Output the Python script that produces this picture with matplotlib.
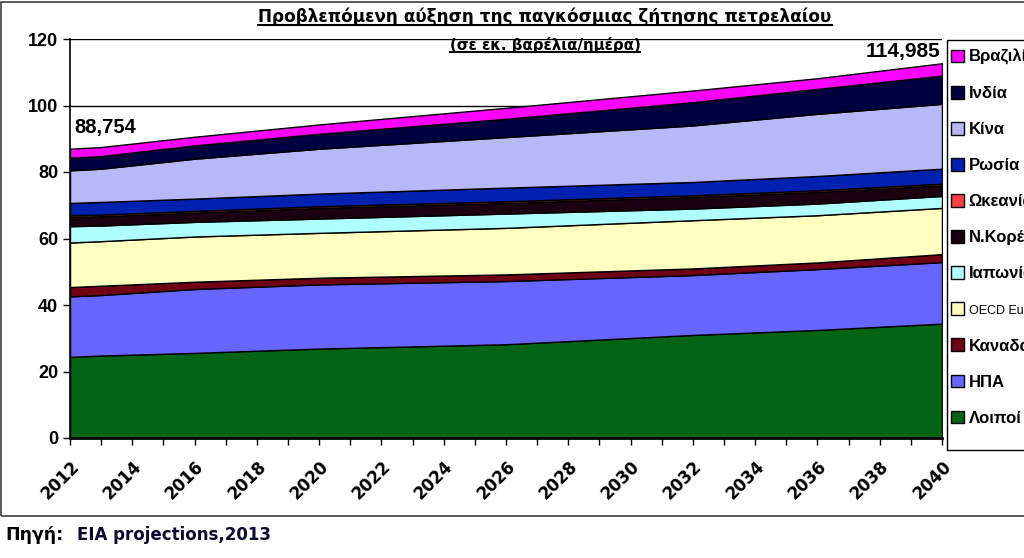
import matplotlib.pyplot as plt
from matplotlib.patches import Rectangle
from matplotlib.lines import Line2D

# years (kinks of the stacked areas)
years = [2012, 2013, 2016, 2020, 2026, 2032, 2036, 2040]

# million barrels/day per region, bottom to top
others  = [24.4, 24.8, 25.6, 26.9, 28.2, 31.0, 32.5, 34.4]
usa     = [18.2, 18.2, 19.2, 19.3, 19.0, 18.0, 18.3, 18.5]
canada  = [2.8, 2.8, 2.2, 2.0, 2.0, 2.0, 2.0, 2.4]
oecd_eu = [13.4, 13.4, 13.6, 13.5, 14.0, 14.5, 14.2, 13.9]
japan   = [4.9, 4.7, 4.4, 4.3, 4.3, 3.5, 3.5, 3.6]
skorea  = [2.8, 2.8, 2.8, 3.2, 3.2, 3.5, 3.5, 3.2]
oceania = [0.5, 0.5, 0.5, 0.5, 0.5, 0.5, 0.5, 0.5]
russia  = [3.7, 3.8, 3.7, 3.8, 4.1, 4.0, 4.3, 4.5]
china   = [9.8, 10.0, 12.0, 13.5, 15.2, 17.0, 18.7, 19.5]
india   = [3.8, 3.8, 4.0, 4.5, 5.5, 7.0, 7.5, 8.5]
brazil  = [2.7, 2.7, 2.6, 2.8, 3.3, 3.5, 3.2, 3.7]

labels = ['Λοιποί', 'ΗΠΑ', 'Καναδάς', 'OECD Europe', 'Ιαπωνία', 'Ν.Κορέα',
          'Ωκεανία', 'Ρωσία', 'Κίνα', 'Ινδία', 'Βραζιλία']
colors = ['#006414', '#6666FF', '#700014', '#FFFFC0', '#B0FFFF', '#1A0010',
          '#FF4040', '#0020B0', '#B8B8F8', '#000040', '#FF00FF']

start_label = '88,754'
end_label = '114,985'

W, H = 1024, 558
fig = plt.figure(figsize=(W / 100, H / 100), dpi=100)

# outer frame of the chart and the footer line
fig.patches.append(Rectangle((1 / W, 1 - 516 / H), 1.2, 516 / H - 2 / H,
                             transform=fig.transFigure, fill=False,
                             edgecolor='#404040', linewidth=1.2))
# legend box (drawn separately so it can be taller than its entries)
fig.patches.append(Rectangle((947 / W, 1 - 450 / H), 0.2, 410 / H,
                             transform=fig.transFigure, fill=False,
                             edgecolor='black', linewidth=1))

ax = fig.add_axes([70 / W, 1 - 438 / H, 872 / W, 399 / H])
series = [others, usa, canada, oecd_eu, japan, skorea, oceania, russia, china, india, brazil]
polys = ax.stackplot(years, *series, colors=colors, edgecolor='black', linewidth=1.0)

ax.set_xlim(2012, 2040)
ax.set_ylim(0, 120)
ax.set_yticks(range(0, 121, 20))
ax.set_yticklabels([str(v) for v in range(0, 121, 20)],
                   fontfamily='Liberation Sans', fontweight='bold', fontsize=13)
ax.yaxis.grid(True, color='black', linewidth=1)
ax.set_axisbelow(True)

ticks = list(range(2012, 2041))
ax.set_xticks(ticks)
ax.set_xticklabels([str(y) if (y - 2012) % 2 == 0 else '' for y in ticks],
                   rotation=45, ha='right', rotation_mode='anchor',
                   fontfamily='DejaVu Sans', fontweight='bold', fontsize=12)
ax.tick_params(axis='both', direction='out', length=5, width=1, colors='black')
ax.tick_params(axis='x', pad=9)
ax.spines['top'].set_visible(False)
ax.spines['right'].set_visible(False)
ax.spines['left'].set_linewidth(1.2)
ax.spines['bottom'].set_linewidth(2)

# total labels
ax.text(2012.15, 93.5, start_label, fontfamily='Liberation Sans', fontweight='bold',
        fontsize=14.5, ha='left', va='center')
ax.text(2039.95, 116.3, end_label, fontfamily='Liberation Sans', fontweight='bold',
        fontsize=15, ha='right', va='center')

# title and subtitle (underlined)
t1 = fig.text(545 / W, 1 - 17 / H, 'Προβλεπόμενη αύξηση της παγκόσμιας ζήτησης πετρελαίου',
              ha='center', va='center', fontfamily='DejaVu Sans', fontweight='bold', fontsize=12.2)
t2 = fig.text(545 / W, 1 - 45 / H, '(σε εκ. βαρέλια/ημέρα)',
              ha='center', va='center', fontfamily='DejaVu Sans', fontweight='bold', fontsize=10.8)

# legend, reversed order, partly cut by the right edge like the original
handles = polys[::-1]
leg = fig.legend(handles, labels[::-1], loc='upper left',
                 bbox_to_anchor=(948 / W, 1 - 46 / H), frameon=False,
                 handlelength=0.75, handleheight=0.75, handletextpad=0.3,
                 labelspacing=1.26, borderpad=0.2, borderaxespad=0,
                 prop={'family': 'Liberation Sans', 'weight': 'bold', 'size': 12})
for txt in leg.get_texts():
    if txt.get_text() == 'OECD Europe':
        txt.set_fontsize(9)
        txt.set_fontweight('normal')

# source footer
fig.text(5 / W, 1 - 535 / H, 'Πηγή:', fontfamily='DejaVu Sans', fontweight='bold',
         fontsize=12.5, ha='left', va='center', color='black')
fig.text(77 / W, 1 - 535 / H, 'EIA projections,2013', fontfamily='DejaVu Sans',
         fontweight='bold', fontsize=12, ha='left', va='center', color='#0A0A30')

# underline the title texts
fig.canvas.draw()
renderer = fig.canvas.get_renderer()
inv = fig.transFigure.inverted()
for t in (t1, t2):
    bb = t.get_window_extent(renderer)
    (x0, y0), (x1, y1) = inv.transform([(bb.x0, bb.y0), (bb.x1, bb.y1)])
    fig.lines.append(Line2D([x0, x1], [y0 + 1.5 / H, y0 + 1.5 / H], transform=fig.transFigure,
                            color='black', linewidth=1.5))

fig.savefig('out.png', dpi=100)
